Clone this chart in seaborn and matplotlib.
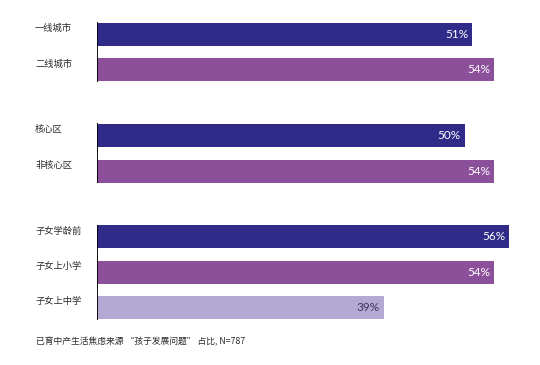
import matplotlib
matplotlib.use("Agg")
import matplotlib.pyplot as plt
import seaborn as sns
import pandas as pd

categories = ["一线城市", "二线城市", "核心区", "非核心区", "子女学龄前", "子女上小学", "子女上中学"]
values = [51, 54, 50, 54, 56, 54, 39]
groups = [0, 0, 1, 1, 2, 2, 2]
kinds = ["a", "b", "a", "b", "a", "b", "c"]
footnote = "已育中产生活焦虑来源 “孩子发展问题” 占比, N=787"

palette = {"a": "#302a88", "b": "#8c4f9a", "c": "#b4a9d2"}
label_colors = {"a": "white", "b": "white", "c": "#3a3560"}

# layout positions: within-group pitch 1, extra gap between groups
gap = 0.86
pos = []
for i, g in enumerate(groups):
    pos.append(i + g * gap)

df = pd.DataFrame({"cat": categories, "value": values, "pos": pos, "kind": kinds})

sns.set_theme(style="white")
plt.rcParams["font.family"] = ["Noto Sans CJK SC", "DejaVu Sans"]

W, H = 540, 365
fig = plt.figure(figsize=(W / 100, H / 100), dpi=100)
ax = fig.add_axes([97 / W, 0, (W - 97) / W, 1])

sns.barplot(data=df, x="value", y="pos", hue="kind", palette=palette, orient="h",
            native_scale=True, dodge=False, width=0.65, legend=False, ax=ax,
            saturation=1, linewidth=0)

ax.set_xlim(0, 60.2)
ax.set_ylim(pos[-1] + 1.62, -0.975)
for s in ax.spines.values():
    s.set_visible(False)
ax.set_xticks([])
ax.set_yticks([])
ax.set_xlabel("")
ax.set_ylabel("")

# group axis lines
for g in sorted(set(groups)):
    ps = [p for p, gg in zip(pos, groups) if gg == g]
    ax.plot([0, 0], [min(ps) - 0.35, max(ps) + 0.35], color="black", lw=1.3,
            solid_capstyle="butt", zorder=5)

# category labels
for c, p in zip(categories, pos):
    ax.text(-62 / 443 * 60.2, p - 0.17, c, ha="left", va="center", fontsize=6.7,
            color="#2a2a2a", clip_on=False)

# value labels
for v, p, k in zip(values, pos, kinds):
    ax.text(v - 0.55, p, f"{v}%", ha="right", va="center", fontsize=8.5,
            color=label_colors[k], family=["Lato", "DejaVu Sans"])

fig.text(36 / W, 1 - 342 / H, footnote, ha="left", va="center", fontsize=6.3,
         color="#2a2a2a")

fig.savefig("out.png", dpi=100)
